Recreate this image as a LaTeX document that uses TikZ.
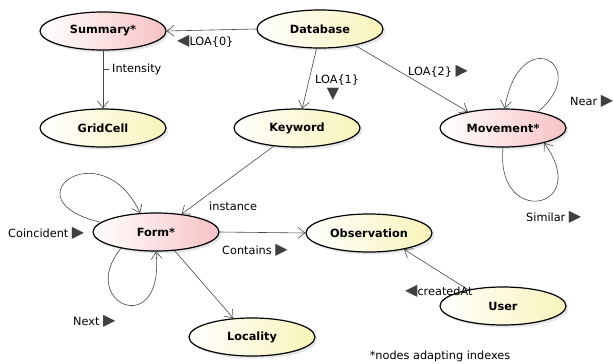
\documentclass[tikz,border=0pt]{standalone}
\usepackage{fontspec}
\setmainfont{DejaVu Sans}
\usetikzlibrary{shapes.geometric,shadows,arrows.meta}
\definecolor{pinkend}{RGB}{247,194,196}
\definecolor{yellowend}{RGB}{248,244,186}
\definecolor{edgegray}{RGB}{70,70,70}
\newcommand{\rtri}{\textcolor{black!75}{\fontsize{16}{14}\selectfont▶}}
\newcommand{\ltri}{\textcolor{black!75}{\fontsize{16}{14}\selectfont◀}}
\newcommand{\dtri}{\textcolor{black!75}{\fontsize{16}{14}\selectfont▼}}

\begin{document}
\begin{tikzpicture}[x=1pt, y=-1pt,
	entity/.style={ellipse, draw=black, line width=1.2pt, minimum width=126pt, minimum height=38pt, inner sep=0pt, font=\fontsize{11.3}{13}\selectfont\bfseries, drop shadow={shadow xshift=2.5pt, shadow yshift=-2.5pt, fill=black!20}},
	indexed/.style={entity, left color=white, right color=pinkend},
	plain/.style={entity, left color=white, right color=yellowend},
	link/.style={draw=edgegray, line width=0.6pt, -{Straight Barb[length=7pt,width=11pt]}},
	lbl/.style={font=\fontsize{11.3}{13}\selectfont, inner sep=0pt}]
	\useasboundingbox (0,0) rectangle (613,364);

	\node[indexed] (summary) at (103,31) {Summary*};
	\node[plain] (database) at (320,29) {Database};
	\node[plain] (gridcell) at (103,128) {GridCell};
	\node[plain] (keyword) at (297,128) {Keyword};
	\node[indexed] (movement) at (503,128) {Movement*};
	\node[indexed] (form) at (156,232) {Form*};
	\node[plain] (observation) at (369,233) {Observation};
	\node[plain] (locality) at (252,337) {Locality};
	\node[plain] (user) at (503,306) {User};

	\draw[link] (database.west) -- (summary.east);
	\draw[link] (summary) -- (gridcell);
	\draw[link] (database.260) -- (keyword.75);
	\draw[link] (database.-25) -- (movement.155);
	\draw[link] (movement.25) .. controls +(55,-46) and +(15,-87) .. (movement.85);
	\draw[link] (movement.south) .. controls +(-8,81) and +(49,67) .. (movement.-20);
	\draw[link] (keyword.218) -- (form.35);
	\draw[link] (form.170) .. controls +(-95,-22) and +(-39,-83) .. (form.130);
	\draw[link] (form.205) .. controls +(-45,55) and +(9,90) .. (form.south);
	\draw[link] (form.east) -- (observation.west);
	\draw[link] (form.315) -- (locality.135);
	\draw[link] (user.155) -- (observation.-25);

	\node[lbl, anchor=west] (loa0) at (177,41) {\ltri LOA\{0\}};
	\node[lbl, anchor=west] (intensity) at (112,69) {Intensity};
	\draw[edgegray, line width=0.6pt] ([xshift=-3pt]intensity.west) -- ++(-6,0);
	\node[lbl, anchor=west] (loa1) at (315,80) {LOA\{1\}};
	\node[lbl] (loa1dir) at (333,94) {\dtri};
	\node[lbl, anchor=west] (loa2) at (408,71) {LOA\{2\} \rtri};
	\node[lbl, anchor=west] (near) at (570,101) {Near \rtri};
	\node[lbl, anchor=west] (similar) at (526,217) {Similar \rtri};
	\node[lbl, anchor=west] (instance) at (209,206) {instance};
	\node[lbl, anchor=west] (coincident) at (8,233) {Coincident \rtri};
	\node[lbl, anchor=west] (contains) at (222,250) {Contains \rtri};
	\node[lbl, anchor=west] (next) at (73,321) {Next \rtri};
	\node[lbl, anchor=west] (createdat) at (405,291) {\ltri createdAt};
	\node[lbl] (footnote) at (440,356) {*nodes adapting indexes};
\end{tikzpicture}
\end{document}
